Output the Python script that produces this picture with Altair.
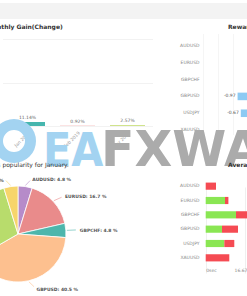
import altair as alt
import pandas as pd

# ---------------- data ----------------
months = ["Jan 2019", "Feb 2019", "Mar 2019"]
month_gain = [11.14, 0.92, 2.57]
month_colors = ["#46b6ae", "#ef8f8f", "#d0e38c"]
gain_ticks = [0, 30, 60, 90, 120, 150, 180, 210, 240]

symbols = ["AUDUSD", "EURUSD", "GBPCHF", "GBPUSD", "USDJPY", "XAUUSD"]
reward_symbols = ["GBPUSD", "USDJPY"]
reward_values = [-0.97, -0.67]
reward_labels = ["-0.97", "-0.67"]
reward_ticks = [-4.2, -3.5, -2.8, -2.1, -1.4, -0.7]

pie_counts = [2, 7, 2, 17, 12, 2]
pie_colors = ["#b68bc9", "#e98b8b", "#4db6ac", "#fdc08f", "#b8dc6c", "#f7d56b"]
pie_right = ["AUDUSD", "EURUSD", "GBPCHF", "GBPUSD"]

avg_win = [0, 495, 777, 418, 477, 0]      # seconds
avg_loss = [264, 87, 350, 410, 256, 605]  # seconds
avg_ticks = [0, 1000, 2000]

FONT = "DejaVu Sans"
W0, W1 = 176, 84
H0, H1, H2 = 16, 134, 146
CX, CY, R = 31, 81, 48

# ---------------- strip ----------------
def strip(w):
    return alt.Chart(pd.DataFrame({"v": [0]})).mark_point(opacity=0).encode(
        x=alt.value(0), y=alt.value(0)
    ).properties(width=w, height=H0, view=alt.ViewBackground(fill="#f3f3f3", stroke=None))

# ---------------- monthly gain ----------------
mdf = pd.DataFrame({"month": months, "gain": month_gain,
                    "label": [f"{v:.2f}%" for v in month_gain]})
xm = alt.X("month:N", sort=months,
           scale=alt.Scale(domain=months, range=[15.5, 165.5], paddingInner=0.3, paddingOuter=0.15),
           axis=alt.Axis(title=None, labelAngle=315, labelFontSize=4.5, labelColor="#999",
                         ticks=False, tickSize=0, domain=False, offset=-27, labelPadding=4,
                         grid=False, labelFont=FONT))
ym = alt.Y("gain:Q", scale=alt.Scale(domain=[0, 240], range=[107, 20]),
           axis=alt.Axis(title=None, labels=False, ticks=False, domain=False, values=gain_ticks,
                         grid=True, gridColor="#ececec", gridWidth=0.7))
m_bars = alt.Chart(mdf).mark_bar().encode(
    x=xm, y=ym,
    color=alt.Color("month:N", scale=alt.Scale(domain=months, range=month_colors), legend=None))
m_text = alt.Chart(mdf).mark_text(fontSize=4.5, color="#666", dy=-4, font=FONT).encode(
    x=alt.X("month:N", sort=months), y="gain:Q", text="label:N")
monthly = alt.layer(m_bars, m_text).properties(
    width=W0, height=H1,
    title=alt.TitleParams("Monthly Gain(Change)", anchor="start", frame="group", offset=-11,
                          fontSize=6, fontWeight="bold", color="#333", font=FONT))

# ---------------- reward (+ watermark overlay) ----------------
rdf = pd.DataFrame({"sym": reward_symbols, "val": reward_values, "label": reward_labels})
yr = alt.Y("sym:N", sort=symbols,
           scale=alt.Scale(domain=symbols, range=[18.5, 119.5], paddingInner=0.55, paddingOuter=0.275),
           axis=alt.Axis(title=None, ticks=False, tickSize=0, domain=False, labelFontSize=4.5,
                         labelColor="#888", offset=-36, labelPadding=0, grid=False, labelFont=FONT))
xr = alt.X("val:Q", scale=alt.Scale(domain=[-4.4, 0], range=[36.6, 85]),
           axis=alt.Axis(title=None, labels=False, ticks=False, domain=False, grid=True,
                         gridColor="#f0f0f0", gridWidth=0.7, values=reward_ticks))
r_bars = alt.Chart(rdf).mark_bar(color="#8dcaf3", clip=True).encode(x=xr, y=yr)
r_text = alt.Chart(rdf).mark_text(align="right", dx=-2, fontSize=4.5, color="#555", font=FONT).encode(
    x="val:Q", y=alt.Y("sym:N", sort=symbols), text="label:N")

wm_ring = alt.Chart(pd.DataFrame({"t": ["o"]})).mark_arc(
    innerRadius=11, outerRadius=22, color="#a3d3f1").encode(
    theta=alt.value(6.2832), x=alt.value(-149), y=alt.value(122))
wm_ea = alt.Chart(pd.DataFrame({"t": ["EA"]})).mark_text(
    align="left", baseline="alphabetic", font="DejaVu Sans Condensed", fontWeight="bold",
    fontSize=46, color="#a3d3f1").encode(text="t:N", x=alt.value(-120), y=alt.value(147))
wm_fx = alt.Chart(pd.DataFrame({"t": ["FXWAY"]})).mark_text(
    align="left", baseline="alphabetic", font="DejaVu Sans", fontWeight="bold",
    fontSize=49, color="#ababab").encode(text="t:N", x=alt.value(-62), y=alt.value(147))

reward = alt.layer(r_bars, r_text, wm_ring, wm_ea, wm_fx).properties(
    width=W1, height=H1,
    title=alt.TitleParams("Reward/Risk", anchor="start", frame="group", offset=-11, dx=65,
                          fontSize=6, fontWeight="bold", color="#333", font=FONT))

# ---------------- pie ----------------
total = sum(pie_counts)
pdf = pd.DataFrame({"sym": symbols, "count": pie_counts, "k": list(range(len(symbols)))})
pdf["label"] = [f"{s}: {c / total * 100:.1f} %" for s, c in zip(symbols, pie_counts)]
theta_scale = alt.Scale(domain=[0, total])
pie_color = alt.Color("sym:N", scale=alt.Scale(domain=symbols, range=pie_colors), legend=None)
arc = alt.Chart(pdf).mark_arc(outerRadius=R, stroke="white", strokeWidth=0.8, clip=True).encode(
    theta=alt.Theta("count:Q", stack=True, scale=theta_scale), order=alt.Order("k:Q"),
    color=pie_color, x=alt.value(CX), y=alt.value(CY))
lab_base = alt.Chart(pdf).transform_window(
    cum="sum(count)", sort=[alt.SortField("k")], frame=[None, 0]
).transform_calculate(
    mid="datum.cum - datum.count / 2",
    ang=f"2 * PI * (datum.cum - datum.count / 2) / {total}",
)
conn = lab_base.transform_calculate(
    side="sin(datum.ang) >= 0 ? 1 : -1",
    x1=f"{CX} + {R + 1} * sin(datum.ang)",
    y1=f"{CY} - {R + 1} * cos(datum.ang)",
    x2=f"{CX} + {R + 6} * sin(datum.ang) + 4 * (sin(datum.ang) >= 0 ? 1 : -1)",
    y2=f"{CY} - {R + 6} * cos(datum.ang)",
).mark_rule(strokeWidth=0.6, clip=True).encode(
    x=alt.X("x1:Q", scale=None), y=alt.Y("y1:Q", scale=None),
    x2="x2:Q", y2="y2:Q", color=pie_color)
lab_r = lab_base.transform_filter(
    alt.FieldOneOfPredicate(field="sym", oneOf=pie_right)
).mark_text(radius=56, align="left", dx=6, dy=1, fontSize=4.5, fontWeight="bold", color="#555",
            font=FONT, clip=True).encode(theta=alt.Theta("mid:Q", stack=None), text="label:N",
                                          x=alt.value(CX), y=alt.value(CY))
lab_l = lab_base.transform_filter(
    ~alt.FieldOneOfPredicate(field="sym", oneOf=pie_right)
).mark_text(radius=56, align="right", dx=-6, dy=2, fontSize=4.5, fontWeight="bold", color="#555",
            font=FONT, clip=True).encode(theta=alt.Theta("mid:Q", stack=None), text="label:N",
                                          x=alt.value(CX), y=alt.value(CY))

pie = alt.layer(arc, conn, lab_r, lab_l).properties(
    width=W0, height=H2,
    title=alt.TitleParams("Symbols popularity for January.", anchor="start", frame="group",
                          offset=-15, dx=-12, fontSize=6, fontWeight="normal", color="#333", font=FONT))

# ---------------- average ----------------
adf = pd.DataFrame({
    "sym": symbols * 2,
    "kind": ["win"] * 6 + ["loss"] * 6,
    "k": [0] * 6 + [1] * 6,
    "sec": avg_win + avg_loss,
})
ya = alt.Y("sym:N", sort=symbols,
           scale=alt.Scale(domain=symbols, range=[26, 112], paddingInner=0.5, paddingOuter=0.25),
           axis=alt.Axis(title=None, ticks=False, tickSize=0, domain=False, labelFontSize=4.5,
                         labelColor="#888", offset=-36, labelPadding=0, grid=False, labelFont=FONT))
xa = alt.X("sec:Q", stack=True, scale=alt.Scale(domain=[0, 2000], range=[42.7, 120.7]),
           axis=alt.Axis(title=None, ticks=False, tickSize=0, domain=False, grid=True, gridColor="#e8e8e8",
                         gridWidth=0.7, values=avg_ticks, offset=-34, labelPadding=2,
                         labelFontSize=4.5, labelColor="#888", labelFont=FONT,
                         labelExpr="datum.value == 0 ? '0sec' : format(datum.value / 60, '.2f') + 'min'"))
a_bars = alt.Chart(adf).mark_bar(clip=True).encode(
    x=xa, y=ya, order=alt.Order("k:Q"),
    color=alt.Color("kind:N", scale=alt.Scale(domain=["win", "loss"], range=["#8ae653", "#f54b53"]),
                    legend=None))
average = alt.layer(a_bars).properties(
    width=W1, height=H2,
    title=alt.TitleParams("Average Trade Length", anchor="start", frame="group", offset=-15, dx=65,
                          fontSize=6, fontWeight="bold", color="#333", font=FONT))

chart = alt.concat(
    strip(W0), strip(W1), monthly, reward, pie, average,
    columns=2, spacing=0, bounds="flush", align="each",
).resolve_scale(
    color="independent"
).properties(
    padding={"left": -25, "right": -56, "top": 0, "bottom": 0},
    background="white",
).configure_view(stroke=None)

chart.save("out.html", embed_options={"renderer": "svg", "actions": False})
